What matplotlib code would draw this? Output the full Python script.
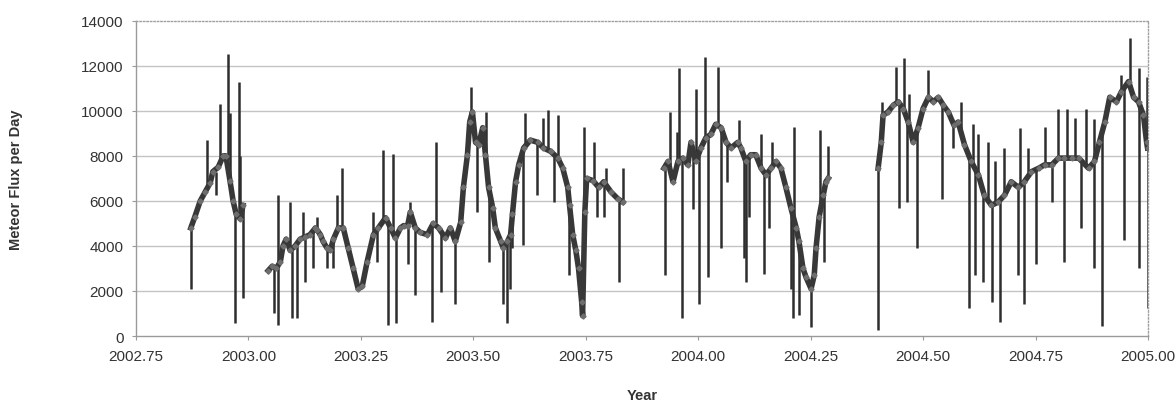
import matplotlib
matplotlib.use("Agg")
import matplotlib.pyplot as plt
from matplotlib.ticker import FixedLocator, FuncFormatter

# ---------------- data ----------------
# Smoothed daily flux, four observing segments (year, flux)
seg1_years = [2002.872, 2002.881, 2002.893, 2002.904, 2002.915, 2002.921, 2002.933,
              2002.944, 2002.950, 2002.959, 2002.966, 2002.973, 2002.982, 2002.988]
seg1_flux = [4800, 5300, 6000, 6400, 6800, 7300, 7500,
             8000, 8000, 6900, 6000, 5400, 5200, 5800]

seg2_years = [2003.044, 2003.053, 2003.062, 2003.071, 2003.077, 2003.084, 2003.093, 2003.104,
              2003.115, 2003.126, 2003.137, 2003.149, 2003.153, 2003.160, 2003.166, 2003.175,
              2003.182, 2003.189, 2003.200, 2003.211, 2003.222, 2003.233, 2003.244, 2003.253,
              2003.264, 2003.278, 2003.289, 2003.305, 2003.316, 2003.327, 2003.338, 2003.345,
              2003.354, 2003.360, 2003.371, 2003.382, 2003.398, 2003.411, 2003.423, 2003.438,
              2003.449, 2003.460, 2003.472, 2003.478, 2003.487, 2003.492, 2003.498, 2003.505,
              2003.512, 2003.521, 2003.527, 2003.534, 2003.543, 2003.549, 2003.561, 2003.567,
              2003.576, 2003.583, 2003.587, 2003.594, 2003.601, 2003.612, 2003.627, 2003.643,
              2003.656, 2003.672, 2003.688, 2003.699, 2003.710, 2003.714, 2003.721, 2003.728,
              2003.734, 2003.741, 2003.743, 2003.748, 2003.752, 2003.766, 2003.779, 2003.790,
              2003.806, 2003.821, 2003.832]
seg2_flux = [2900, 3100, 3000, 3300, 4000, 4300, 3800, 4000,
             4300, 4400, 4500, 4800, 4700, 4500, 4200, 3900,
             3800, 4300, 4800, 4800, 3900, 3000, 2100, 2200,
             3300, 4500, 4800, 5250, 4800, 4350, 4800, 4900,
             4900, 5500, 4800, 4600, 4500, 5000, 4800, 4350,
             4800, 4200, 5050, 6600, 8050, 9500, 9950, 8600,
             8500, 9250, 8050, 6600, 5700, 4800, 4200, 3900,
             4200, 4500, 5400, 6850, 7600, 8350, 8700, 8600,
             8350, 8200, 7900, 7450, 6600, 5800, 4500, 3800,
             3000, 1500, 900, 5500, 7000, 6900, 6600, 6850,
             6400, 6100, 5950]

seg3_years = [2003.924, 2003.933, 2003.944, 2003.955, 2003.966, 2003.977, 2003.984, 2003.995,
              2004.006, 2004.017, 2004.028, 2004.039, 2004.051, 2004.062, 2004.073, 2004.088,
              2004.095, 2004.106, 2004.117, 2004.128, 2004.140, 2004.151, 2004.162, 2004.173,
              2004.184, 2004.195, 2004.206, 2004.218, 2004.224, 2004.233, 2004.240, 2004.251,
              2004.258, 2004.262, 2004.269, 2004.278, 2004.284, 2004.289]
seg3_flux = [7450, 7750, 6850, 7750, 7900, 7600, 8600, 7750,
             8350, 8800, 8950, 9400, 9250, 8600, 8350, 8600,
             8350, 7750, 8050, 8050, 7450, 7150, 7450, 7750,
             7450, 6600, 5700, 4800, 4200, 3000, 2600, 2100,
             2700, 3900, 5300, 6250, 6850, 7000]

seg4_years = [2004.400, 2004.407, 2004.411, 2004.422, 2004.434, 2004.445, 2004.456, 2004.467,
              2004.478, 2004.489, 2004.500, 2004.512, 2004.523, 2004.534, 2004.545, 2004.556,
              2004.569, 2004.578, 2004.592, 2004.607, 2004.623, 2004.636, 2004.652, 2004.667,
              2004.681, 2004.696, 2004.712, 2004.725, 2004.741, 2004.757, 2004.770, 2004.786,
              2004.801, 2004.814, 2004.830, 2004.846, 2004.868, 2004.881, 2004.892, 2004.904,
              2004.915, 2004.930, 2004.941, 2004.957, 2004.968, 2004.979, 2004.990, 2004.997,
              2004.999]
seg4_flux = [7450, 8600, 9800, 9950, 10250, 10400, 10100, 9500,
             8600, 9250, 10100, 10600, 10400, 10600, 10250, 9950,
             9350, 9500, 8500, 7750, 7150, 6250, 5800, 5950,
             6250, 6850, 6600, 6850, 7300, 7450, 7600, 7600,
             7900, 7900, 7900, 7900, 7450, 7750, 8600, 9500,
             10600, 10400, 10850, 11300, 10600, 10400, 9800, 8600,
             8350]

# Single-day excursions: year, flux before the jump, flux reached
spike_years = [2002.872, 2002.908, 2002.928, 2002.937, 2002.955, 2002.959, 2002.970, 2002.979,
               2002.982, 2002.988,
               2003.058, 2003.066, 2003.066, 2003.093, 2003.097, 2003.108, 2003.122, 2003.126,
               2003.144, 2003.153, 2003.175, 2003.189, 2003.198, 2003.207, 2003.276, 2003.287,
               2003.300, 2003.311, 2003.322, 2003.329, 2003.354, 2003.360, 2003.371, 2003.409,
               2003.416, 2003.429, 2003.460, 2003.496, 2003.509, 2003.529, 2003.536, 2003.567,
               2003.574, 2003.581, 2003.587, 2003.610, 2003.614, 2003.641, 2003.656, 2003.665,
               2003.679, 2003.688, 2003.712, 2003.746, 2003.768, 2003.774, 2003.790, 2003.794,
               2003.823, 2003.832,
               2003.926, 2003.937, 2003.953, 2003.957, 2003.964, 2003.988, 2003.995, 2004.002,
               2004.015, 2004.022, 2004.044, 2004.051, 2004.064, 2004.090, 2004.102, 2004.106,
               2004.113, 2004.140, 2004.146, 2004.157, 2004.164, 2004.206, 2004.211, 2004.213,
               2004.224, 2004.251, 2004.271, 2004.280, 2004.289,
               2004.400, 2004.409, 2004.440, 2004.447, 2004.458, 2004.465, 2004.469, 2004.487,
               2004.512, 2004.543, 2004.567, 2004.585, 2004.601, 2004.610, 2004.616, 2004.621,
               2004.634, 2004.645, 2004.654, 2004.659, 2004.672, 2004.681, 2004.712, 2004.716,
               2004.725, 2004.734, 2004.752, 2004.770, 2004.786, 2004.799, 2004.814, 2004.819,
               2004.837, 2004.852, 2004.863, 2004.879, 2004.881, 2004.897, 2004.941, 2004.946,
               2004.959, 2004.979, 2004.981, 2004.997, 2004.999]
spike_from = [4800, 6500, 7300, 7600, 7800, 6900, 5400, 5200,
              5300, 5800,
              3100, 3000, 3000, 3800, 3900, 4000, 4300, 4400,
              4600, 4700, 3900, 4300, 4700, 4800, 4400, 4700,
              5100, 5000, 4600, 4400, 4900, 5500, 4800, 5000,
              5000, 4600, 4200, 9800, 8600, 7500, 6400, 3900,
              4100, 4400, 5400, 8200, 8350, 8600, 8350, 8300,
              8100, 7900, 6200, 5500, 6900, 6800, 6850, 6800,
              6100, 5950,
              7450, 7500, 7500, 7600, 7850, 8300, 7750, 8000,
              8700, 8850, 9300, 9250, 8600, 8500, 8000, 7750,
              7950, 7450, 7300, 7300, 7500, 5700, 5400, 5300,
              4200, 2100, 5500, 6400, 7000,
              7450, 8600, 10300, 10400, 10000, 9700, 9400, 9100,
              10600, 10400, 9400, 9000, 8100, 7700, 7400, 7200,
              6400, 6000, 5800, 5850, 6000, 6250, 6600, 6650,
              6850, 7100, 7400, 7600, 7600, 7800, 7900, 7900,
              7900, 7700, 7500, 7700, 7750, 9000, 10850, 11000,
              11200, 10400, 10300, 8600, 8350]
spike_to = [2100, 8700, 6250, 10300, 12530, 9900, 580, 11300,
            8000, 1700,
            1000, 6250, 500, 5950, 800, 800, 5500, 2400,
            3000, 5300, 3000, 3000, 6250, 7450, 5500, 3300,
            8250, 500, 8100, 600, 3200, 5950, 1800, 620,
            8600, 1950, 1400, 11050, 5500, 9950, 3300, 1400,
            600, 2100, 3900, 4050, 9900, 6250, 9700, 10050,
            5950, 9800, 2700, 9300, 8600, 5300, 5300, 7450,
            2400, 7450,
            2700, 9950, 9050, 11900, 800, 5650, 10950, 1400,
            12400, 2600, 11950, 3900, 6850, 9600, 3450, 2400,
            5300, 8950, 2750, 4800, 8600, 2100, 800, 9300,
            950, 400, 9150, 3300, 8450,
            270, 10400, 11950, 5700, 12350, 5950, 10750, 3900,
            11800, 6100, 8350, 10400, 1250, 9400, 2700, 8950,
            2400, 8600, 1500, 7750, 620, 8350, 2700, 9250,
            1400, 8350, 3200, 9300, 5950, 10100, 3300, 10100,
            9700, 4800, 10100, 3000, 9650, 430, 11600, 4250,
            13250, 11900, 3000, 11500, 1250]

x_ticks = [2002.75, 2003.00, 2003.25, 2003.50, 2003.75, 2004.00, 2004.25, 2004.50, 2004.75, 2005.00]
y_ticks = [0, 2000, 4000, 6000, 8000, 10000, 12000, 14000]

# ---------------- figure ----------------
plt.rcParams['font.family'] = ['Liberation Sans', 'DejaVu Sans']

fig = plt.figure(figsize=(11.75, 4.10), dpi=100)
ax = fig.add_axes([0.1157, 0.178, 0.8613, 0.769])

for y in y_ticks[1:-1]:
    ax.axhline(y, color='#c4c4c4', lw=1.0, zorder=0)

ax.vlines(spike_years, spike_from, spike_to, color='#2e2e2e', lw=1.8, zorder=2)
for yrs, fl in [(seg1_years, seg1_flux), (seg2_years, seg2_flux),
                (seg3_years, seg3_flux), (seg4_years, seg4_flux)]:
    ax.plot(yrs, fl, color='#383838', lw=4.0, zorder=3, solid_joinstyle='round')
    ax.plot(yrs, fl, color='#6e6e6e', lw=0, marker='D', ms=2.6, zorder=4)

ax.set_xlim(2002.75, 2005.0)
ax.set_ylim(0, 14000)
ax.xaxis.set_major_locator(FixedLocator(x_ticks))
ax.yaxis.set_major_locator(FixedLocator(y_ticks))
ax.xaxis.set_major_formatter(FuncFormatter(lambda v, p: f"{v:.2f}"))
ax.yaxis.set_major_formatter(FuncFormatter(lambda v, p: f"{int(v)}"))

for side in ['top', 'right']:
    ax.spines[side].set_color('#a0a0a0')
    ax.spines[side].set_linestyle((0, (1, 1.5)))
    ax.spines[side].set_linewidth(1.0)
for side in ['left', 'bottom']:
    ax.spines[side].set_color('#9a9a9a')
    ax.spines[side].set_linewidth(1.0)

ax.tick_params(axis='both', labelsize=11, colors='#333333', length=3, width=0.8)
ax.tick_params(axis='x', pad=6, color='#9a9a9a')
ax.tick_params(axis='y', pad=6, color='#9a9a9a')

ax.set_xlabel('Year', fontsize=10.5, fontweight='bold', color='#333333', labelpad=18)
ax.set_ylabel('Meteor Flux per Day', fontsize=10.5, fontweight='bold', color='#333333', labelpad=42)

fig.savefig('out.png', dpi=100)
